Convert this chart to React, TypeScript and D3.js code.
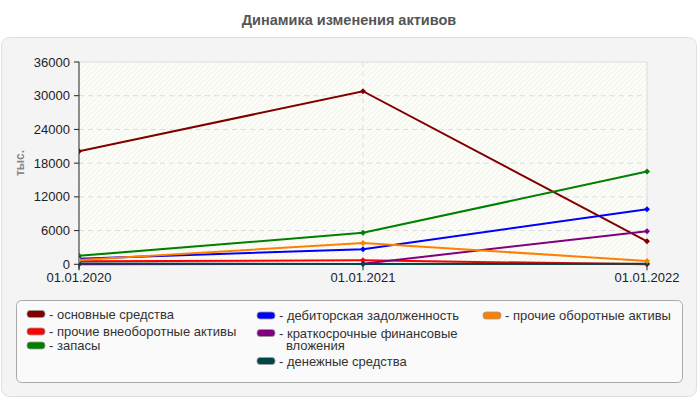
import React from "react";
import * as d3 from "d3";

const dates = ["01.01.2020", "01.01.2021", "01.01.2022"];
const yTicks = [0, 6000, 12000, 18000, 24000, 30000, 36000];

const seriesNames = [
  "основные средства",
  "прочие внеоборотные активы",
  "запасы",
  "дебиторская задолженность",
  "краткосрочные финансовые вложения",
  "денежные средства",
  "прочие оборотные активы",
];
const seriesColors = ["#800000", "#ff0000", "#008000", "#0000ff", "#800080", "#004646", "#ff8000"];

const osnovnyeSredstva = [20100, 30800, 4100];
const prochieVneoborotnye = [550, 700, 0];
const zapasy = [1500, 5600, 16500];
const debitorskaya = [1000, 2700, 9800];
const kratkosrochnye = [0, 100, 5900];
const denezhnye = [150, 60, 100];
const prochieOborotnye = [750, 3800, 600];

const seriesValues = [
  osnovnyeSredstva,
  prochieVneoborotnye,
  zapasy,
  debitorskaya,
  kratkosrochnye,
  denezhnye,
  prochieOborotnye,
];

// legend layout (positions only); text lines are split from seriesNames
const legendLayout = [
  { x: 27, y: 314, split: 0 },
  { x: 27, y: 331.5, split: 0 },
  { x: 27, y: 345.5, split: 0 },
  { x: 257, y: 315.5, split: 0 },
  { x: 257, y: 333, split: 2 },
  { x: 257, y: 361, split: 0 },
  { x: 483, y: 315.5, split: 0 },
];

const FONT = "'Liberation Sans', Arial, sans-serif";

function splitName(name: string, split: number): string[] {
  if (!split) return [name];
  const words = name.split(" ");
  return [words.slice(0, split).join(" "), words.slice(split).join(" ")];
}

export default function App() {
  const left = 79, right = 647, top = 62, bottom = 264.3;
  const x = d3.scalePoint<string>().domain(dates).range([left, right]);
  const y = d3.scaleLinear().domain([0, 36000]).range([bottom, top]);
  const line = d3
    .line<number>()
    .x((_, i) => x(dates[i]) as number)
    .y((d) => y(d));

  const diamond = (cx: number, cy: number, r: number) =>
    `M${cx},${cy - r}L${cx + r},${cy}L${cx},${cy + r}L${cx - r},${cy}Z`;

  return (
    <svg
      width={700}
      height={400}
      style={{ position: "absolute", left: 0, top: 0, display: "block" }}
      fontFamily={FONT}
    >
      <defs>
        <pattern id="hatch" width={5} height={5} patternUnits="userSpaceOnUse">
          <rect width={5} height={5} fill="#fdfdf7" />
          <path d="M0,5L5,0M-1,1L1,-1M4,6L6,4" stroke="#ececec" strokeWidth={0.8} />
        </pattern>
        <clipPath id="plotclip">
          <rect x={left} y={top - 4} width={right - left + 5} height={bottom - top + 8} />
        </clipPath>
      </defs>
      <rect x={0} y={0} width={700} height={400} fill="#ffffff" />
      <text
        x={349}
        y={25}
        textAnchor="middle"
        fontSize={14.5}
        fontWeight="bold"
        fill="#555"
      >
        Динамика изменения активов
      </text>
      <rect x={1.5} y={37.5} width={695} height={359} rx={8} fill="#f4f4f4" stroke="#e0e0e0" />

      {/* plot background */}
      <rect x={left} y={top} width={right - left} height={bottom - top} fill="url(#hatch)" />
      {/* grid */}
      {yTicks.slice(1, -1).map((t) => (
        <line
          key={t}
          x1={left}
          x2={right}
          y1={y(t)}
          y2={y(t)}
          stroke="#dcdcdc"
          strokeDasharray="5,4"
        />
      ))}
      <line
        x1={x(dates[1])}
        x2={x(dates[1])}
        y1={top}
        y2={bottom}
        stroke="#dcdcdc"
        strokeDasharray="5,4"
      />
      <line x1={left} x2={right} y1={top} y2={top} stroke="#dcdcdc" />
      <line x1={right} x2={right} y1={top} y2={bottom} stroke="#dcdcdc" />

      {/* axes */}
      <line x1={left} x2={left} y1={top} y2={bottom + 5} stroke="#222" />
      <line x1={left} x2={right} y1={bottom} y2={bottom} stroke="#222" />
      {yTicks.map((t) => (
        <g key={t}>
          <line x1={left - 5} x2={left} y1={y(t)} y2={y(t)} stroke="#222" />
          <text
            x={left - 9}
            y={y(t)}
            dy="0.35em"
            textAnchor="end"
            fontSize={13}
            fill="#222"
          >
            {t}
          </text>
        </g>
      ))}
      {dates.map((d) => (
        <g key={d}>
          <line
            x1={x(d)}
            x2={x(d)}
            y1={bottom}
            y2={bottom + 6}
            stroke="#222"
          />
          <text
            x={x(d)}
            y={bottom + 13}
            dy="0.35em"
            textAnchor="middle"
            fontSize={13}
            fill="#222"
          >
            {d}
          </text>
        </g>
      ))}
      <text
        transform={`translate(20,163) rotate(-90)`}
        textAnchor="middle"
        dy="0.35em"
        fontSize={12}
        fontWeight="bold"
        fill="#888"
      >
        тыс.
      </text>

      {/* series */}
      <g clipPath="url(#plotclip)">
        {seriesValues.map((vals, si) => (
          <g key={si}>
            <path
              d={line(vals) || ""}
              fill="none"
              stroke={seriesColors[si]}
              strokeWidth={2}
            />
            {vals.map((v, i) => (
              <path
                key={i}
                d={diamond(x(dates[i]) as number, y(v), 3)}
                fill={seriesColors[si]}
              />
            ))}
          </g>
        ))}
      </g>

      {/* legend */}
      <rect x={16.5} y={300.5} width={666} height={82} rx={5} fill="#fafafa" stroke="#aaa" />
      {legendLayout.map((l, i) => (
        <g key={i}>
          <rect
            x={l.x}
            y={l.y - 3.5}
            width={18}
            height={7}
            rx={3}
            fill={seriesColors[i]}
            stroke="#999"
            strokeWidth={0.8}
          />
          {splitName(seriesNames[i], l.split).map((ln, j) => (
            <text
              key={j}
              x={j === 0 ? l.x + 22 : l.x + 29}
              y={l.y + j * 12}
              dy="0.35em"
              fontSize={13}
              fill="#333"
            >
              {j === 0 ? "- " + ln : ln}
            </text>
          ))}
        </g>
      ))}
    </svg>
  );
}
